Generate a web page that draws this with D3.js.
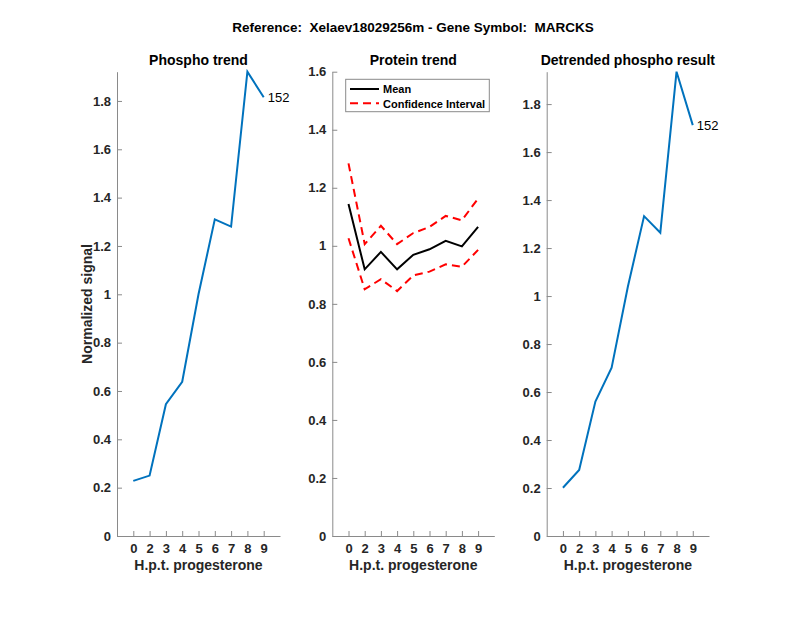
<!DOCTYPE html>
<html><head><meta charset="utf-8">
<script src="https://cdn.jsdelivr.net/npm/d3@7"></script>
<style>body{margin:0;background:#fff}svg{display:block}</style>
</head><body>
<script>
const categories = ["0","2","3","4","5","6","7","8","9"];
const phospho = [0.228, 0.25, 0.545, 0.638, 1.0, 1.31, 1.28, 1.921, 1.815];
const proteinMean = [1.144, 0.919, 0.979, 0.919, 0.969, 0.988, 1.017, 0.998, 1.065];
const proteinUpper = [1.284, 1.006, 1.069, 1.006, 1.044, 1.065, 1.103, 1.088, 1.163];
const proteinLower = [1.026, 0.85, 0.885, 0.844, 0.898, 0.911, 0.936, 0.928, 0.986];
const detrended = [0.201, 0.275, 0.56, 0.701, 1.039, 1.333, 1.264, 1.935, 1.7125];
const yTicks = [0, 0.2, 0.4, 0.6, 0.8, 1, 1.2, 1.4, 1.6, 1.8];
const yTicksProtein = [0, 0.2, 0.4, 0.6, 0.8, 1, 1.2, 1.4, 1.6];
const peptideLabel = "152";

const W = 800, H = 618;
const svg = d3.select("body").append("svg").attr("width", W).attr("height", H)
  .style("font-family", "'Liberation Sans', Arial, Helvetica, sans-serif");

const txtColor = "#262626", axColor = "#8a8a8a";

svg.append("text").attr("x", 413).attr("y", 32).attr("text-anchor", "middle")
  .attr("font-size", 13.5).attr("font-weight", "bold").attr("fill", "#000")
  .style("white-space", "pre")
  .text("Reference:  Xelaev18029256m - Gene Symbol:  MARCKS");

function panel(cfg) {
  const g = svg.append("g");
  const x = d3.scaleLinear().domain([0, 10]).range([cfg.x0, cfg.x1]);
  const y = d3.scaleLinear().domain([0, cfg.ymax]).range([536, 71.7]);
  const xa = g.append("g").attr("transform", "translate(0,536)")
    .call(d3.axisBottom(x).tickValues(d3.range(1, 10)).tickFormat(i => categories[i - 1]).tickSizeInner(-5).tickSizeOuter(0).tickPadding(8));
  const ya = g.append("g").attr("transform", `translate(${cfg.x0},0)`)
    .call(d3.axisLeft(y).tickValues(cfg.ticks).tickFormat(d3.format("~g")).tickSizeInner(-5).tickSizeOuter(0).tickPadding(6));
  [xa, ya].forEach(a => {
    a.select(".domain").attr("stroke", axColor).attr("stroke-width", 1);
    a.selectAll(".tick line").attr("stroke", axColor).attr("stroke-width", 1);
    a.selectAll(".tick text").attr("fill", txtColor).attr("font-size", 13).attr("font-weight", "bold")
      .attr("font-family", "'Liberation Sans', Arial, sans-serif");
  });
  g.append("text").attr("x", (cfg.x0 + cfg.x1) / 2).attr("y", 65).attr("text-anchor", "middle")
    .attr("font-size", 14).attr("font-weight", "bold").attr("fill", "#000").text(cfg.title);
  g.append("text").attr("x", (cfg.x0 + cfg.x1) / 2).attr("y", 570).attr("text-anchor", "middle")
    .attr("font-size", 14).attr("font-weight", "bold").attr("fill", txtColor).text("H.p.t. progesterone");
  const line = d3.line().x((d, i) => x(i + 1)).y(d => y(d));
  cfg.series.forEach(s => {
    g.append("path").datum(s.values).attr("d", line).attr("fill", "none")
      .attr("stroke", s.color).attr("stroke-width", 2)
      .attr("stroke-dasharray", s.dash || null).attr("stroke-linejoin", "miter");
  });
  return {g, x, y};
}

const p1 = panel({x0: 117, x1: 280, ymax: d3.max(phospho), ticks: yTicks, title: "Phospho trend",
  series: [{values: phospho, color: "#0072BD"}]});
p1.g.append("text").attr("x", p1.x(9) + 4).attr("y", p1.y(phospho[8]) + 5).attr("font-size", 13)
  .attr("fill", "#000").text(peptideLabel);
p1.g.append("text").attr("transform", `translate(92,${p1.y(0.96)}) rotate(-90)`).attr("text-anchor", "middle")
  .attr("font-size", 14).attr("font-weight", "bold").attr("fill", txtColor).text("Normalized signal");

const p2 = panel({x0: 332.3, x1: 494.3, ymax: 1.6, ticks: yTicksProtein, title: "Protein trend",
  series: [
    {values: proteinMean, color: "#000"},
    {values: proteinUpper, color: "#FF0000", dash: "8,5"},
    {values: proteinLower, color: "#FF0000", dash: "8,5"}
  ]});
const lg = p2.g.append("g");
lg.append("rect").attr("x", 345.7).attr("y", 79.3).attr("width", 143.6).attr("height", 32.4)
  .attr("fill", "#fff").attr("stroke", axColor).attr("stroke-width", 1);
lg.append("line").attr("x1", 350).attr("x2", 379).attr("y1", 89).attr("y2", 89).attr("stroke", "#000").attr("stroke-width", 2);
lg.append("line").attr("x1", 350).attr("x2", 379).attr("y1", 103.3).attr("y2", 103.3).attr("stroke", "#FF0000").attr("stroke-width", 2).attr("stroke-dasharray", "8,5");
lg.append("text").attr("x", 383).attr("y", 93).attr("font-size", 11).attr("font-weight", "bold").attr("fill", "#000").text("Mean");
lg.append("text").attr("x", 383).attr("y", 107.5).attr("font-size", 11).attr("font-weight", "bold").attr("fill", "#000").text("Confidence Interval");

const p3 = panel({x0: 546.7, x1: 709, ymax: d3.max(detrended), ticks: yTicks, title: "Detrended phospho result",
  series: [{values: detrended, color: "#0072BD"}]});
p3.g.append("text").attr("x", p3.x(9) + 4).attr("y", p3.y(detrended[8]) + 5).attr("font-size", 13)
  .attr("fill", "#000").text(peptideLabel);
</script>
</body></html>
